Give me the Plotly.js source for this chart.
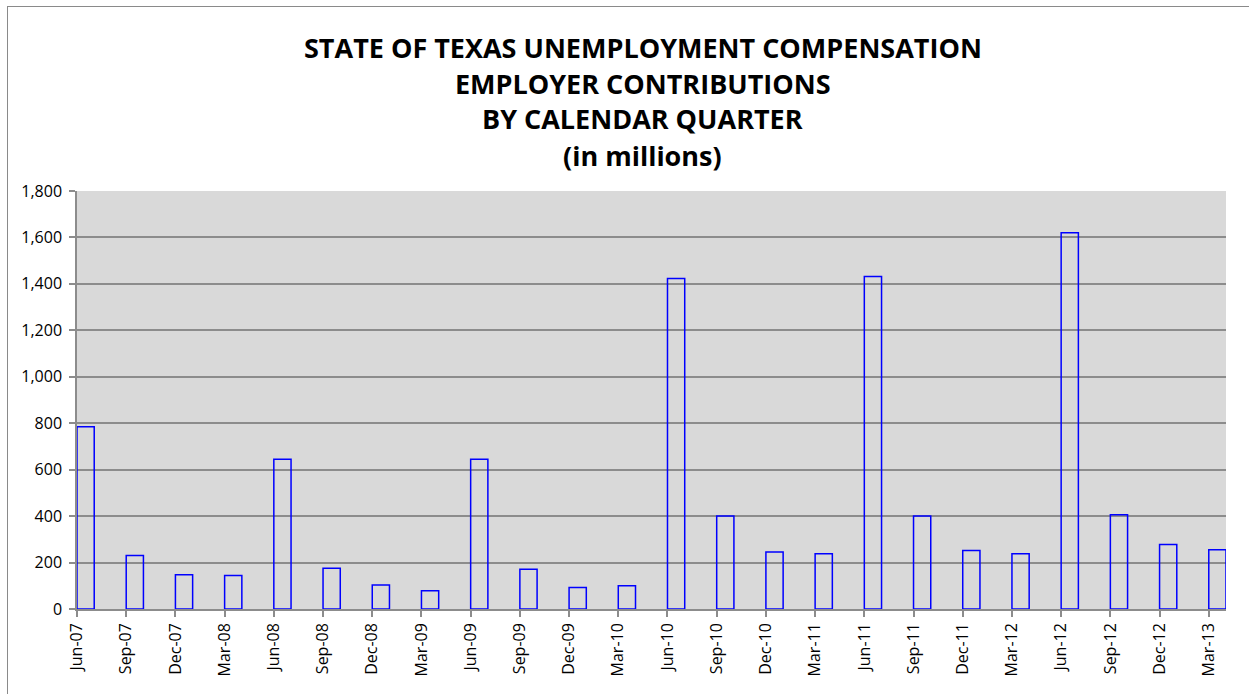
<!DOCTYPE html>
<html>
<head>
<meta charset="utf-8">
<script src="https://cdn.plot.ly/plotly-3.0.1.min.js"></script>
<style>
html,body{margin:0;padding:0;background:#fff;overflow:hidden;}
#chart{width:1249px;height:694px;position:absolute;left:0;top:0;}
#frame{position:absolute;left:7px;top:6px;width:1260px;height:720px;border:1.5px solid #8a8a8a;pointer-events:none;}
</style>
</head>
<body>
<div id="chart"></div>
<div id="frame"></div>
<script>
const quarters = ["Jun-07","Sep-07","Dec-07","Mar-08","Jun-08","Sep-08","Dec-08","Mar-09",
  "Jun-09","Sep-09","Dec-09","Mar-10","Jun-10","Sep-10","Dec-10","Mar-11",
  "Jun-11","Sep-11","Dec-11","Mar-12","Jun-12","Sep-12","Dec-12","Mar-13"];
const contributions = [785,230,147,144,645,175,103,79,
  645,171,93,100,1423,401,245,238,
  1432,400,252,238,1620,406,278,255];
const titleLines = ["STATE OF TEXAS UNEMPLOYMENT COMPENSATION","EMPLOYER CONTRIBUTIONS","BY CALENDAR QUARTER","(in millions)"];
const titleY = [1.344, 1.258, 1.173, 1.085];

const trace = {
  type: "bar",
  x: quarters,
  y: contributions,
  offset: 0,
  width: 0.35,
  marker: {color: "rgba(0,0,0,0)", line: {color: "#0000ff", width: 1.5}},
  hoverinfo: "x+y"
};

const layout = {
  width: 1249, height: 694,
  margin: {l: 77, r: 23, t: 191, b: 84.5, pad: 0},
  paper_bgcolor: "#ffffff",
  plot_bgcolor: "#d9d9d9",
  showlegend: false,
  font: {family: "Open Sans, sans-serif", size: 16, color: "#000"},
  xaxis: {
    type: "category",
    range: [0, 23.35],
    tickangle: -90,
    ticks: "outside", ticklen: 6, tickcolor: "#8c8c8c", tickwidth: 1.5,
    showline: true, linecolor: "#8c8c8c", linewidth: 1.5,
    showgrid: false, zeroline: false,
    tickfont: {family: "Open Sans, sans-serif", size: 16, color: "#000"},
    fixedrange: true
  },
  yaxis: {
    range: [0, 1800],
    tickvals: [0,200,400,600,800,1000,1200,1400,1600,1800],
    tickformat: ",",
    ticks: "outside", ticklen: 6, tickcolor: "#8c8c8c", tickwidth: 1.5,
    showline: true, linecolor: "#8c8c8c", linewidth: 1.5,
    showgrid: true, gridcolor: "#8c8c8c", gridwidth: 1.5,
    zeroline: false,
    tickfont: {family: "Open Sans, sans-serif", size: 16, color: "#000"},
    ticklabelstandoff: 4,
    fixedrange: true
  },
  annotations: titleLines.map((t, i) => ({
    text: "<b>" + t + "</b>",
    xref: "paper", yref: "paper",
    x: 0.4926, y: titleY[i],
    xanchor: "center", yanchor: "middle",
    showarrow: false,
    font: {family: "Open Sans, sans-serif", size: 27, color: "#000"}
  }))
};

Plotly.newPlot("chart", [trace], layout, {displayModeBar: false});
</script>
</body>
</html>
